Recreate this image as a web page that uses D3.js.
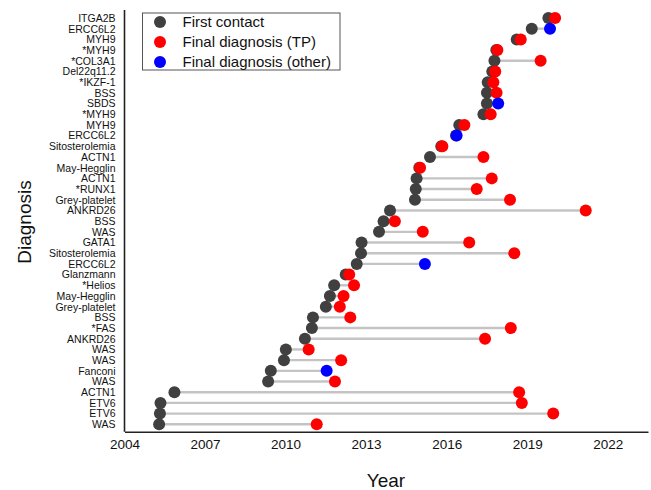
<!DOCTYPE html>
<html>
<head>
<meta charset="utf-8">
<script src="https://cdn.jsdelivr.net/npm/d3@7"></script>
<style>
  html, body { margin: 0; padding: 0; background: #fff; }
  svg { display: block; font-family: "Liberation Sans", Arial, sans-serif; }
</style>
</head>
<body>
<svg id="chart" width="651" height="490"></svg>
<script>
// Diagnoses, top to bottom
const diagnoses = [
  "ITGA2B", "ERCC6L2", "MYH9", "*MYH9", "*COL3A1", "Del22q11.2", "*IKZF-1",
  "BSS", "SBDS", "*MYH9", "MYH9", "ERCC6L2", "Sitosterolemia", "ACTN1",
  "May-Hegglin", "ACTN1", "*RUNX1", "Grey-platelet", "ANKRD26", "BSS", "WAS",
  "GATA1", "Sitosterolemia", "ERCC6L2", "Glanzmann", "*Helios", "May-Hegglin",
  "Grey-platelet", "BSS", "*FAS", "ANKRD26", "WAS", "WAS", "Fanconi", "WAS",
  "ACTN1", "ETV6", "ETV6", "WAS"
];

// Year of first contact
const firstContact = [
  2019.79, 2019.17, 2018.61, 2017.85, 2017.78, 2017.70, 2017.53,
  2017.50, 2017.50, 2017.37, 2016.47, 2016.35, 2015.80, 2015.38,
  2014.98, 2014.88, 2014.85, 2014.82, 2013.89, 2013.65, 2013.48,
  2012.83, 2012.81, 2012.65, 2012.24, 2011.81, 2011.65,
  2011.50, 2011.02, 2010.98, 2010.72, 2010.01, 2009.94, 2009.45, 2009.35,
  2005.86, 2005.34, 2005.32, 2005.29
];

// Year of final diagnosis
const finalDiagnosis = [
  2020.04, 2019.85, 2018.76, 2017.89, 2019.50, 2017.81, 2017.74,
  2017.86, 2017.92, 2017.64, 2016.66, 2016.37, 2015.84, 2017.37,
  2015.01, 2017.68, 2017.12, 2018.36, 2021.18, 2014.07, 2015.11,
  2016.84, 2018.52, 2015.19, 2012.37, 2012.55, 2012.16,
  2012.02, 2012.41, 2018.39, 2017.43, 2010.86, 2012.07, 2011.53, 2011.84,
  2018.70, 2018.80, 2019.97, 2011.16
];

// Where the final diagnosis was made
const finalType = [
  "TP", "other", "TP", "TP", "TP", "TP", "TP",
  "TP", "other", "TP", "TP", "other", "TP", "TP",
  "TP", "TP", "TP", "TP", "TP", "TP", "TP",
  "TP", "TP", "other", "TP", "TP", "TP",
  "TP", "TP", "TP", "TP", "TP", "TP", "other", "TP",
  "TP", "TP", "TP", "TP"
];

const yearTicks = [2004, 2007, 2010, 2013, 2016, 2019, 2022];

const legendItems = [
  { label: "First contact", key: "first" },
  { label: "Final diagnosis (TP)", key: "TP" },
  { label: "Final diagnosis (other)", key: "other" }
];

const colors = { first: "#404040", TP: "#ff0000", other: "#0000ff" };

const rows = diagnoses.map((name, i) => ({
  i, name,
  first: firstContact[i],
  final: finalDiagnosis[i],
  type: finalType[i]
}));

const svg = d3.select("#chart");

const x = d3.scaleLinear().domain([2004, 2023.5]).range([124.5, 648]);
const y = d3.scalePoint().domain(d3.range(diagnoses.length)).range([18, 424.3]);
const axisY = 431.7;
const r = 6;

// Connecting lines
svg.append("g")
  .selectAll("line")
  .data(rows)
  .join("line")
  .attr("x1", d => x(d.first))
  .attr("x2", d => x(d.final))
  .attr("y1", d => y(d.i))
  .attr("y2", d => y(d.i))
  .attr("stroke", "#c4c4c4")
  .attr("stroke-width", 2.4);

// First contact dots
svg.append("g")
  .selectAll("circle")
  .data(rows)
  .join("circle")
  .attr("cx", d => x(d.first))
  .attr("cy", d => y(d.i))
  .attr("r", r)
  .attr("fill", colors.first);

// Final diagnosis dots
svg.append("g")
  .selectAll("circle")
  .data(rows)
  .join("circle")
  .attr("cx", d => x(d.final))
  .attr("cy", d => y(d.i))
  .attr("r", r)
  .attr("fill", d => colors[d.type]);

// X axis
const xAxis = d3.axisBottom(x)
  .tickValues(yearTicks)
  .tickFormat(d3.format("d"))
  .tickSize(0)
  .tickPadding(8);

const gx = svg.append("g")
  .attr("transform", `translate(0,${axisY})`)
  .call(xAxis);
gx.select(".domain").attr("stroke", "#222").attr("stroke-width", 1.6);
gx.selectAll("text").attr("font-size", 13.5).attr("fill", "#111")
  .attr("font-family", "Liberation Sans, Arial, sans-serif");

// Y axis
const yAxis = d3.axisLeft(y)
  .tickFormat(i => diagnoses[i])
  .tickSize(0)
  .tickPadding(9);

const gy = svg.append("g")
  .attr("transform", `translate(${x(2004)},0)`)
  .call(yAxis);
gy.select(".domain").attr("d", `M0,10V${axisY}`).attr("stroke", "#222").attr("stroke-width", 1.6);
gy.selectAll("text").attr("font-size", 10.5).attr("fill", "#111")
  .attr("font-family", "Liberation Sans, Arial, sans-serif");

// Axis titles
svg.append("text")
  .attr("x", 386)
  .attr("y", 487)
  .attr("text-anchor", "middle")
  .attr("font-size", 19)
  .attr("fill", "#111")
  .text("Year");

svg.append("text")
  .attr("transform", "translate(31,222) rotate(-90)")
  .attr("text-anchor", "middle")
  .attr("font-size", 19)
  .attr("fill", "#111")
  .text("Diagnosis");

// Legend
const legend = svg.append("g").attr("transform", "translate(142.5,13)");
legend.append("rect")
  .attr("width", 197.5)
  .attr("height", 57)
  .attr("fill", "#fff")
  .attr("stroke", "#555")
  .attr("stroke-width", 1);
const li = legend.selectAll("g.item")
  .data(legendItems)
  .join("g")
  .attr("class", "item")
  .attr("transform", (d, i) => `translate(0,${9 + i * 20})`);
li.append("circle")
  .attr("cx", 17.5)
  .attr("cy", 0)
  .attr("r", r)
  .attr("fill", d => colors[d.key]);
li.append("text")
  .attr("x", 40)
  .attr("y", 0)
  .attr("dy", "0.35em")
  .attr("font-size", 15)
  .attr("fill", "#111")
  .text(d => d.label);
</script>
</body>
</html>
